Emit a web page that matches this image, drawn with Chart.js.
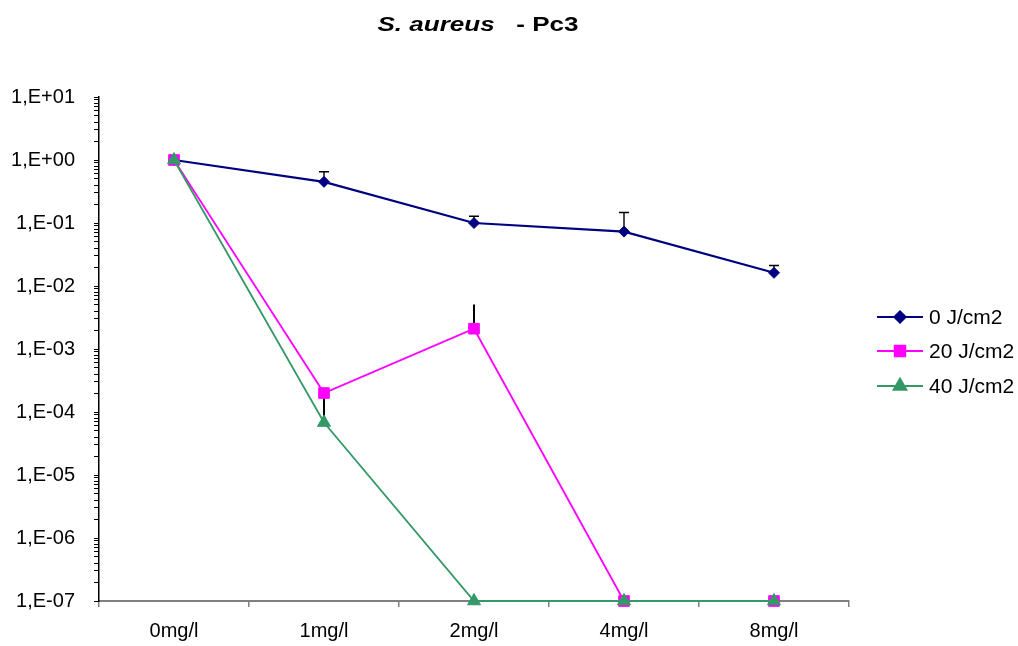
<!DOCTYPE html>
<html>
<head>
<meta charset="utf-8">
<title>S. aureus - Pc3</title>
<script src="https://cdn.jsdelivr.net/npm/chart.js@4.4.1/dist/chart.umd.min.js"></script>
<style>
  body { margin: 0; background: #fff; }
  canvas { display: block; }
</style>
</head>
<body>
<canvas id="grafico" width="1018" height="646"></canvas>
<script>
// categorias (concentração)
const categorias = ['0mg/l', '1mg/l', '2mg/l', '4mg/l', '8mg/l'];

// séries: sobrevivência relativa
const nomesSeries = ['0 J/cm2', '20 J/cm2', '40 J/cm2'];
const serie0J = [1, 0.45, 0.10, 0.073, 0.0162];
const serie20J = [1, 2.0e-4, 2.1e-3, 1e-7, 1e-7];
const serie40J = [1, 6.8e-5, 1e-7, 1e-7, 1e-7];

// barras de erro (só a parte positiva)
const erro0J = [0, 0.20, 0.028, 0.074, 0.0049];
const erro20J = [0, 0, 3.0e-3, 0, 0];
const erro40J = [0, 1.3e-4, 0, 0, 0];

// rótulos do eixo y (décadas de 1E-07 a 1E+01)
const decadas = [-7, -6, -5, -4, -3, -2, -1, 0, 1];
const rotulosY = ['1,E-07', '1,E-06', '1,E-05', '1,E-04', '1,E-03', '1,E-02', '1,E-01', '1,E+00', '1,E+01'];

const cores = ['#000080', '#FF00FF', '#339966'];
const estilos = ['rectRot', 'rect', 'triangle'];
const raios = [5.5, 7.5, 7.5];
const espessuras = [2.2, 1.8, 1.8];
const valores = [serie0J, serie20J, serie40J];
const erros = [erro0J, erro20J, erro40J];
const capErro = [10, 0, 0];
const larguraErro = [1.4, 2, 2];

const fonte = '"Liberation Sans", Arial, sans-serif';

// marcas do eixo y: décadas + menores (2..9)
function ticksLog() {
  const t = [];
  decadas.forEach((d, i) => {
    const base = Math.pow(10, d);
    t.push({ value: base, major: true });
    if (i < decadas.length - 1) {
      for (let k = 2; k <= 9; k++) t.push({ value: k * base, major: false });
    }
  });
  return t;
}

// barras de erro desenhadas antes dos pontos
const barrasErro = {
  id: 'barrasErro',
  beforeDatasetsDraw(chart) {
    const ctx = chart.ctx;
    const xs = chart.scales.x, ys = chart.scales.y;
    ctx.save();
    ctx.strokeStyle = '#000';
    erros.forEach((lista, s) => {
      ctx.lineWidth = larguraErro[s];
      lista.forEach((e, j) => {
        if (!e) return;
        const x = xs.getPixelForValue(j);
        const y1 = ys.getPixelForValue(valores[s][j]);
        const y2 = ys.getPixelForValue(valores[s][j] + e);
        ctx.beginPath();
        ctx.moveTo(x, y1);
        ctx.lineTo(x, y2);
        if (capErro[s]) {
          ctx.moveTo(x - capErro[s] / 2, y2);
          ctx.lineTo(x + capErro[s] / 2, y2);
        }
        ctx.stroke();
      });
    });
    ctx.restore();
  }
};

// título com parte em itálico + legenda à direita
const tituloLegenda = {
  id: 'tituloLegenda',
  afterDraw(chart) {
    const ctx = chart.ctx;
    ctx.save();
    ctx.fillStyle = '#000';
    ctx.textBaseline = 'alphabetic';
    const p1 = 'S. aureus', p2 = '   - Pc3';
    const esticar = 1.24; // o título original é mais largo
    ctx.font = 'italic bold 21px ' + fonte;
    const w1 = ctx.measureText(p1).width;
    ctx.font = 'bold 21px ' + fonte;
    const w2 = ctx.measureText(p2).width;
    const x0 = 478 - (w1 + w2) * esticar / 2;
    ctx.save();
    ctx.translate(x0, 31);
    ctx.scale(esticar, 1);
    ctx.font = 'italic bold 21px ' + fonte;
    ctx.fillText(p1, 0, 0);
    ctx.font = 'bold 21px ' + fonte;
    ctx.fillText(p2, w1, 0);
    ctx.restore();

    // legenda
    ctx.font = '21px ' + fonte;
    ctx.textBaseline = 'middle';
    const ys = [317, 351, 386];
    nomesSeries.forEach((nome, i) => {
      const y = ys[i];
      ctx.strokeStyle = cores[i];
      ctx.lineWidth = espessuras[i];
      ctx.beginPath();
      ctx.moveTo(877, y);
      ctx.lineTo(923, y);
      ctx.stroke();
      ctx.fillStyle = cores[i];
      ctx.strokeStyle = cores[i];
      Chart.helpers.drawPoint(ctx, {
        pointStyle: estilos[i], radius: raios[i], borderWidth: 1
      }, 900, y);
      ctx.fillStyle = '#000';
      ctx.fillText(nome, 929, y + 1);
    });
    ctx.restore();
  }
};

const ctx = document.getElementById('grafico').getContext('2d');
const grafico = new Chart(ctx, {
  type: 'line',
  data: {
    labels: categorias,
    datasets: nomesSeries.map((nome, i) => ({
      label: nome,
      data: valores[i],
      borderColor: cores[i],
      backgroundColor: cores[i],
      borderWidth: espessuras[i],
      pointStyle: estilos[i],
      pointRadius: raios[i],
      pointBorderWidth: 1,
      pointBorderColor: cores[i],
      pointBackgroundColor: cores[i],
      tension: 0,
      clip: false,
      order: 2 - i // verde por cima
    }))
  },
  options: {
    responsive: false,
    devicePixelRatio: 1,
    animation: false,
    layout: { padding: { top: 97, right: 169, bottom: 0, left: 0 } },
    plugins: {
      legend: { display: false },
      title: { display: false },
      tooltip: { enabled: false }
    },
    scales: {
      x: {
        type: 'category',
        offset: true,
        afterFit: s => { s.height = 45; },
        grid: { offset: true, drawOnChartArea: false, drawTicks: true, tickLength: 6, color: '#808080', lineWidth: 1.5 },
        border: { color: '#808080', width: 2 },
        ticks: { color: '#000', font: { family: fonte, size: 20 }, padding: 12, maxRotation: 0 }
      },
      y: {
        type: 'logarithmic',
        min: 1e-7,
        max: 10,
        afterFit: s => { s.width = 99; },
        afterBuildTicks: s => { s.ticks = ticksLog(); },
        grid: { drawOnChartArea: false, drawTicks: true, tickLength: 5, color: '#000', lineWidth: 1 },
        border: { color: '#000', width: 1.5 },
        ticks: {
          autoSkip: false,
          color: '#000',
          font: { family: fonte, size: 20 },
          padding: 19,
          callback: function (v) {
            const e = Math.round(Math.log10(v));
            if (Math.abs(v - Math.pow(10, e)) > Math.pow(10, e) * 1e-6) return '';
            const i = decadas.indexOf(e);
            return i >= 0 ? rotulosY[i] : '';
          }
        }
      }
    }
  },
  plugins: [barrasErro, tituloLegenda]
});
</script>
</body>
</html>
